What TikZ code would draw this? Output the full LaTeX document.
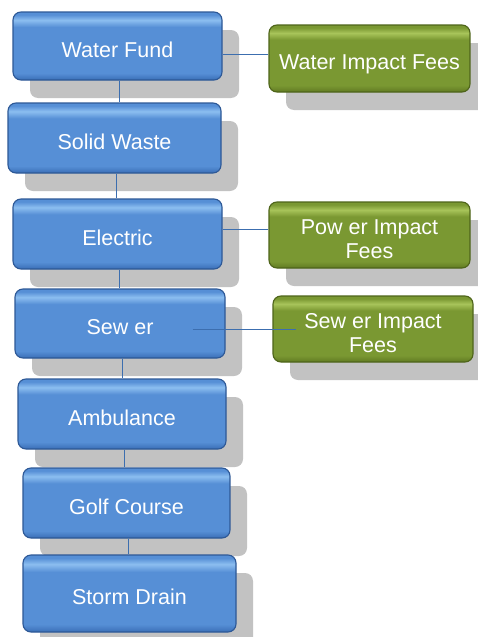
\documentclass[tikz,border=0pt]{standalone}
\usepackage{fontspec}
\setmainfont{Liberation Sans}
\usepackage{xcolor}
\usetikzlibrary{shadows}

\definecolor{fundtop}{RGB}{140,190,240}
\definecolor{fundmid}{RGB}{86,143,214}
\definecolor{fundbot}{RGB}{58,110,182}
\definecolor{fundedge}{RGB}{45,88,150}
\definecolor{feetop}{RGB}{168,196,90}
\definecolor{feemid}{RGB}{122,152,50}
\definecolor{feebot}{RGB}{96,122,34}
\definecolor{feeedge}{RGB}{78,100,26}
\definecolor{linkblue}{RGB}{60,110,175}

\pgfdeclareverticalshading{fundshade}{100bp}{color(0bp)=(fundbot); color(25bp)=(fundbot);
  color(30bp)=(fundmid); color(64bp)=(fundmid); color(69bp)=(fundtop); color(73bp)=(fundmid);
  color(100bp)=(fundmid)}
\pgfdeclareverticalshading{feeshade}{100bp}{color(0bp)=(feebot); color(25bp)=(feebot);
  color(30bp)=(feemid); color(64bp)=(feemid); color(69bp)=(feetop); color(73bp)=(feemid);
  color(100bp)=(feemid)}

\tikzset{
  boxbase/.style={rounded corners=8pt, line width=1.1pt, inner sep=0pt,
    text=white, align=center, font=\fontsize{21.5}{24}\selectfont,
    drop shadow={shadow xshift=17pt, shadow yshift=-18pt, fill=black!24, opacity=1}},
  fundbox/.style={boxbase, draw=fundedge, shading=fundshade,
    minimum width=210pt, minimum height=70pt, text height=22pt, text depth=0pt},
  feebox/.style={boxbase, draw=feeedge, shading=feeshade,
    minimum width=201pt, minimum height=67pt},
  link/.style={draw=linkblue, line width=0.9pt}
}

\begin{document}
\begin{tikzpicture}[x=1pt,y=-1pt]
\useasboundingbox[fill=white] (0,0) rectangle (477,637);
% funds
\node[fundbox, minimum width=209pt, minimum height=68pt] (water) at (117.5,46) {Water Fund};
\node[fundbox, minimum width=213pt] (solid) at (114.5,138) {Solid Waste};
\node[fundbox, minimum width=209pt] (electric) at (117.5,234) {Electric};
\node[fundbox, minimum height=69pt] (sewer) at (120,323.5) {Sew er};
\node[fundbox, minimum width=208pt] (ambulance) at (122,414) {Ambulance};
\node[fundbox, minimum width=207pt] (golf) at (126.5,503) {Golf Course};
\node[fundbox, minimum width=213pt, minimum height=77pt] (storm) at (129.5,593.5) {Storm Drain};
% impact fees
\node[feebox, text height=22pt, text depth=0pt] (waterfee) at (369.5,58.5) {Water Impact Fees};
\node[feebox, minimum height=66pt, text height=48pt] (powerfee) at (369.5,235) {Pow er Impact\\Fees};
\node[feebox, minimum width=200pt, minimum height=66pt, text height=48pt] (sewerfee) at (373,329) {Sew er Impact\\Fees};
% links
\foreach \a/\b in {water/solid, solid/electric, electric/sewer,
                   sewer/ambulance, ambulance/golf, golf/storm}
  \draw[link] ([xshift=2pt]\a.south) -- ([xshift=2pt]\a.south |- \b.north);
\draw[link] ([yshift=4pt]waterfee.west) -- ([yshift=4pt]waterfee.west -| water.east);
\draw[link] ([yshift=6pt]powerfee.west) -- ([yshift=6pt]powerfee.west -| electric.east);
\draw[link] ([xshift=-33pt]sewer.east |- sewerfee.west) -- ([xshift=24pt]sewerfee.west);
\end{tikzpicture}
\end{document}
